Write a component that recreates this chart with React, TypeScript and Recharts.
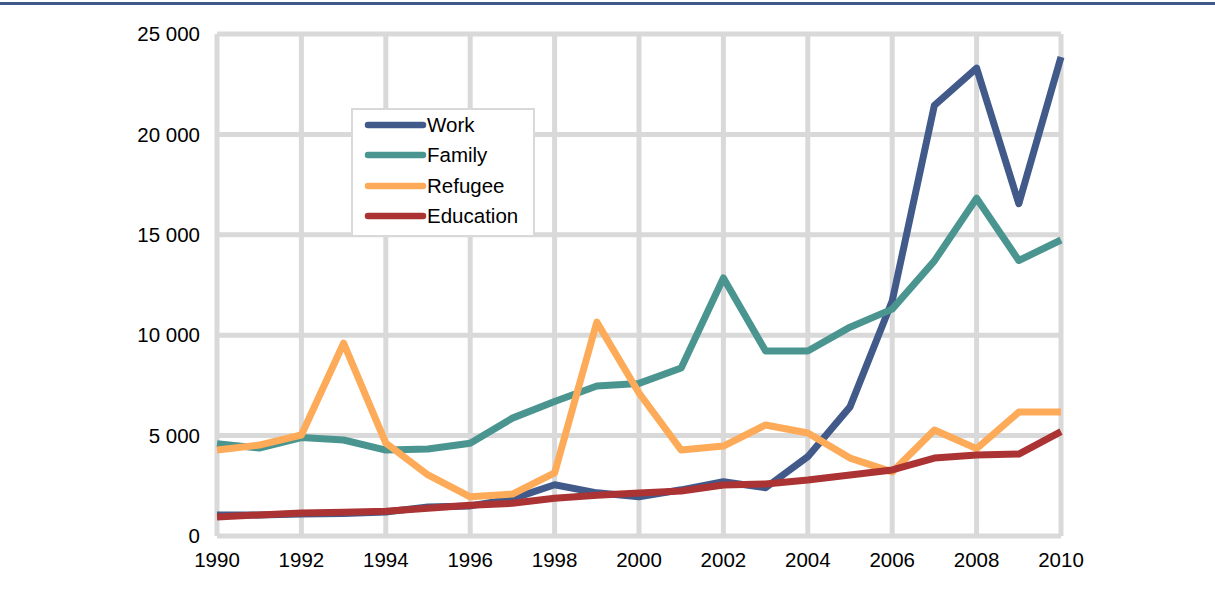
import React from 'react';
import { LineChart, Line, XAxis, YAxis, CartesianGrid } from 'recharts';

const years = [1990,1991,1992,1993,1994,1995,1996,1997,1998,1999,2000,2001,2002,2003,2004,2005,2006,2007,2008,2009,2010];
const work = [1050,1050,1100,1120,1200,1450,1500,1850,2550,2150,1950,2300,2700,2400,3950,6430,11700,21450,23300,16550,23850];
const family = [4600,4380,4900,4780,4280,4330,4620,5870,6700,7470,7600,8370,12850,9210,9210,10400,11300,13700,16820,13720,14740];
const refugee = [4280,4530,5030,9600,4630,3040,1950,2090,3140,10650,7120,4280,4480,5530,5130,3880,3190,5280,4350,6170,6170];
const education = [950,1050,1150,1180,1230,1380,1530,1630,1880,2030,2140,2240,2540,2590,2790,3040,3290,3880,4030,4080,5200];

const xTicks = [1990,1992,1994,1996,1998,2000,2002,2004,2006,2008,2010];
const yTicks = [0,5000,10000,15000,20000,25000];

const series = [
  { key: 'Work', values: work, color: '#415A89' },
  { key: 'Family', values: family, color: '#4A9590' },
  { key: 'Refugee', values: refugee, color: '#FDAB58' },
  { key: 'Education', values: education, color: '#AB3333' },
];

const data = years.map((y, i) => {
  const row: any = { year: y };
  series.forEach(s => { row[s.key] = s.values[i]; });
  return row;
});

const FONT = '"Liberation Sans", Arial, sans-serif';
const FS = 20.5;

const fmt = (v: number) => {
  if (v === 0) return '0';
  const s = String(v);
  return s.slice(0, s.length - 3) + ' ' + s.slice(s.length - 3);
};

const LegendBox = () => (
  <div style={{
    position: 'absolute', left: 351, top: 108, width: 180, height: 125,
    border: '2px solid #d9d9d9', background: '#fff',
    fontFamily: FONT, fontSize: FS, color: '#000', zIndex: 2,
  }}>
    {series.map((s, i) => (
      <div key={s.key} style={{ position: 'absolute', left: 10, top: 0 + i * 30.4, height: 30, display: 'flex', alignItems: 'center', whiteSpace: 'nowrap' }}>
        <svg width={64} height={10} style={{ display: 'block' }}>
          <line x1={5} y1={5} x2={60} y2={5} stroke={s.color} strokeWidth={6.5} strokeLinecap="round" />
        </svg>
        <span style={{ lineHeight: '30px' }}>{s.key}</span>
      </div>
    ))}
  </div>
);

export default function App() {
  return (
    <div style={{ position: 'absolute', left: 0, top: 0, width: 1215, height: 589, background: '#fff' }}>
      <div style={{ position: 'absolute', left: 0, top: 2, width: 1215, height: 3, background: '#3F5A8A' }} />
      <LineChart width={1215} height={589} data={data} margin={{ top: 34, right: 154, bottom: 0, left: 0 }}>
        <CartesianGrid stroke="#d9d9d9" strokeWidth={5} horizontal vertical />
        <XAxis
          dataKey="year" type="number" domain={[1990, 2010]} ticks={xTicks} height={53}
          axisLine={false} tickLine={false} tickSize={0} tickMargin={16} interval={0}
          tick={{ fill: '#000', fontSize: FS, fontFamily: FONT }}
        />
        <YAxis
          type="number" domain={[0, 25000]} ticks={yTicks} width={217}
          axisLine={false} tickLine={false} tickSize={0} tickMargin={17} interval={0}
          tickFormatter={fmt}
          tick={{ fill: '#000', fontSize: FS, fontFamily: FONT }}
        />
        {series.map(s => (
          <Line key={s.key} dataKey={s.key} type="linear" stroke={s.color} strokeWidth={7}
            dot={false} activeDot={false} isAnimationActive={false} strokeLinejoin="round" />
        ))}
      </LineChart>
      <LegendBox />
    </div>
  );
}
